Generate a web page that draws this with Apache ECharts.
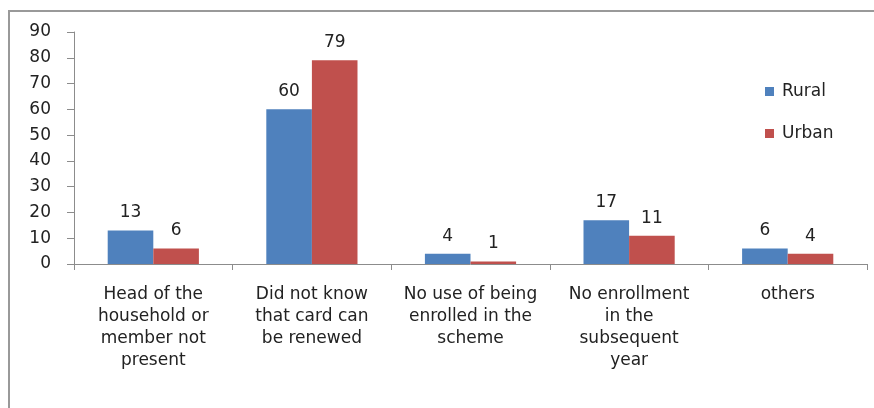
<!DOCTYPE html>
<html>
<head>
<meta charset="utf-8">
<script src="https://cdn.jsdelivr.net/npm/echarts@6/dist/echarts.min.js"></script>
<style>
  html, body { margin: 0; padding: 0; background: #fff; }
  #chart { width: 874px; height: 408px; }
</style>
</head>
<body>
<div id="chart"></div>
<script>
// Reasons given, split by area
const categories = [
  'Head of the\nhousehold or\nmember not\npresent',
  'Did not know\nthat card can\nbe renewed',
  'No use of being\nenrolled in the\nscheme',
  'No enrollment\nin the\nsubsequent\nyear',
  'others'
];
const ruralValues = [13, 60, 4, 17, 6];
const urbanValues = [6, 79, 1, 11, 4];
const yTicks = { min: 0, max: 90, interval: 10 };

const FONT = '"DejaVu Sans", sans-serif';
const TEXT = '#222';

const chart = echarts.init(document.getElementById('chart'));

const barLabel = {
  show: true,
  position: 'top',
  distance: 9,
  color: TEXT,
  fontFamily: FONT,
  fontSize: 17
};

chart.setOption({
  animation: false,
  backgroundColor: '#fff',
  graphic: [{
    type: 'rect',
    shape: { x: 9, y: 11, width: 900, height: 500 },
    style: { fill: 'none', stroke: '#999', lineWidth: 2 },
    silent: true,
    z: -1
  }],
  legend: {
    orient: 'vertical',
    left: 760,
    top: 78,
    itemWidth: 9,
    itemHeight: 9,
    itemGap: 25,
    icon: 'rect',
    textStyle: { color: TEXT, fontFamily: FONT, fontSize: 17, padding: [0, 0, 0, 3] },
    data: ['Rural', 'Urban']
  },
  grid: { left: 74, right: 7, top: 32, bottom: 144, containLabel: false },
  xAxis: {
    type: 'category',
    data: categories,
    axisLine: { lineStyle: { color: '#8c8c8c', width: 1 } },
    axisTick: { show: true, length: 6, lineStyle: { color: '#8c8c8c' } },
    axisLabel: {
      interval: 0,
      margin: 20,
      color: TEXT,
      fontFamily: FONT,
      fontSize: 17,
      lineHeight: 22,
      align: 'center'
    }
  },
  yAxis: {
    type: 'value',
    min: yTicks.min,
    max: yTicks.max,
    interval: yTicks.interval,
    axisLine: { show: true, lineStyle: { color: '#8c8c8c', width: 1 } },
    axisTick: { show: true, length: 7, lineStyle: { color: '#8c8c8c' } },
    splitLine: { show: false },
    axisLabel: {
      margin: 23,
      color: TEXT,
      fontFamily: FONT,
      fontSize: 17
    }
  },
  series: [
    {
      name: 'Rural',
      type: 'bar',
      data: ruralValues,
      barGap: '0%',
      barCategoryGap: '42.5%',
      itemStyle: { color: '#4F81BD' },
      label: barLabel
    },
    {
      name: 'Urban',
      type: 'bar',
      data: urbanValues,
      barGap: '0%',
      barCategoryGap: '42.5%',
      itemStyle: { color: '#C0504D' },
      label: barLabel
    }
  ]
});
</script>
</body>
</html>
